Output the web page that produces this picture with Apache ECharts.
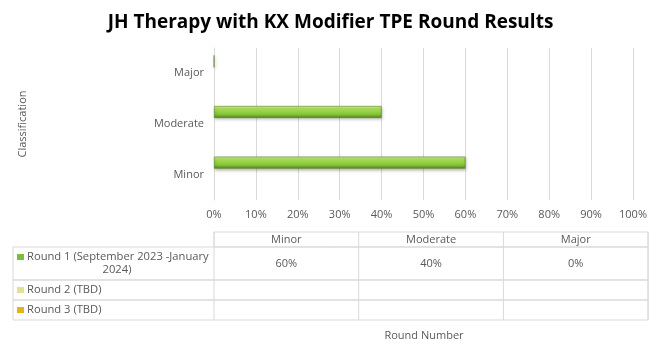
<!DOCTYPE html>
<html><head><meta charset="utf-8">
<script src="https://cdn.jsdelivr.net/npm/echarts@6/dist/echarts.min.js"></script>
<style>html,body{margin:0;padding:0;background:#fff}#c{width:661px;height:361px}</style>
</head><body><div id="c"></div>
<script>
const categories = ['Minor', 'Moderate', 'Major'];
const seriesNames = ['Round 1 (September 2023 -January\n2024)', 'Round 2 (TBD)', 'Round 3 (TBD)'];
const round1 = [60, 40, 0];
const round2 = [null, null, null];
const round3 = [null, null, null];
const xTicks = [0, 10, 20, 30, 40, 50, 60, 70, 80, 90, 100];
const seriesColors = ['#7dbd38', '#dfe28e', '#e2b41c'];

const F = '"Open Sans", "Liberation Sans", sans-serif';
const grey = '#595959';
const lineC = '#d9d9d9';

const barGrad = new echarts.graphic.LinearGradient(0, 0, 0, 1, [
  {offset: 0, color: '#d2f092'},
  {offset: 0.25, color: '#a8de56'},
  {offset: 0.7, color: '#84c236'},
  {offset: 1, color: '#50821c'}
]);

const allData = [round1, round2, round3];

// table geometry
const tX0 = 13, tX1 = 214, colW = 144.7, tRight = 648;
const hTop = 232, r1Top = 247, r2Top = 280, r3Top = 300, tBot = 320;
const rowTops = [r1Top, r2Top, r3Top, tBot];
const g = [];
g.push({type:'rect', shape:{x:tX1, y:hTop, width:tRight-tX1, height:r1Top-hTop}, style:{fill:'none', stroke:lineC, lineWidth:1}});
for (let r = 0; r < 3; r++) {
  g.push({type:'rect', shape:{x:tX0, y:rowTops[r], width:tRight-tX0, height:rowTops[r+1]-rowTops[r]}, style:{fill:'none', stroke:lineC, lineWidth:1}});
}
for (let c = 0; c <= categories.length; c++) {
  const x = tX1 + c*colW;
  g.push({type:'line', shape:{x1:x, y1:hTop, x2:x, y2:tBot}, style:{stroke:lineC, lineWidth:1}});
}
categories.forEach((cat, i) => {
  g.push({type:'text', style:{text:cat, x:tX1 + i*colW + colW/2, y:(hTop+r1Top)/2, align:'center', verticalAlign:'middle', font:'11px '+F, fill:grey}});
});
seriesNames.forEach((name, r) => {
  const top = rowTops[r], bot = rowTops[r+1];
  const cy = (top+bot)/2;
  const ky = r === 0 ? top + 7 : cy - 3;
  g.push({type:'rect', shape:{x:17, y:ky, width:7, height:6}, style:{fill:seriesColors[r]}});
  if (r === 0) {
    const lines = name.split('\n');
    g.push({type:'text', style:{text:lines[0], x:27, y:top+10, align:'left', verticalAlign:'middle', font:'11.2px '+F, fill:grey}});
    g.push({type:'text', style:{text:lines[1], x:117, y:top+23, align:'center', verticalAlign:'middle', font:'11.2px '+F, fill:grey}});
  } else {
    g.push({type:'text', style:{text:name, x:27, y:cy, align:'left', verticalAlign:'middle', font:'11.2px '+F, fill:grey}});
  }
  allData[r].forEach((v, i) => {
    if (v === null || v === undefined) return;
    g.push({type:'text', style:{text:v + '%', x:tX1 + i*colW + colW/2, y:cy, align:'center', verticalAlign:'middle', font:'11px '+F, fill:grey}});
  });
});
g.push({type:'text', style:{text:'Round Number', x:424, y:336, align:'center', verticalAlign:'middle', font:'11px '+F, fill:grey}});

const chart = echarts.init(document.getElementById('c'), null, {renderer:'canvas'});
chart.setOption({
  animation: false,
  backgroundColor: '#fff',
  title: {text:'JH Therapy with KX Modifier TPE Round Results', left:'center', top:8,
    textStyle:{fontFamily:F, fontWeight:'bold', fontSize:19, color:'#000'}},
  grid: {left:214, right:28, top:48, bottom:161, containLabel:false},
  xAxis: {type:'value', min:0, max:100, interval:10,
    axisLine:{show:false}, axisTick:{show:false},
    splitLine:{lineStyle:{color:lineC, width:1}},
    axisLabel:{formatter:v => xTicks.includes(v) ? v + '%' : '', color:grey, fontFamily:F, fontSize:11, margin:9}},
  yAxis: {type:'category', data:categories, name:'Classification', nameLocation:'middle', nameGap:186, nameRotate:90,
    nameTextStyle:{color:grey, fontFamily:F, fontSize:11},
    axisLine:{show:true, lineStyle:{color:lineC}}, axisTick:{show:false},
    axisLabel:{color:grey, fontFamily:F, fontSize:11, margin:10}},
  series: [
    {name:'Round 1', type:'bar', data:round1, barWidth:12, barGap:'0%',
      itemStyle:{color:barGrad, borderColor:'#5a8a22', borderWidth:0.6, shadowColor:'rgba(0,0,0,0.3)', shadowBlur:3, shadowOffsetY:1.5, shadowOffsetX:1}},
    {name:'Round 2', type:'bar', data:round2, barWidth:12, itemStyle:{color:seriesColors[1]}},
    {name:'Round 3', type:'bar', data:round3, barWidth:12, itemStyle:{color:seriesColors[2]}}
  ],
  graphic: g
});
</script></body></html>
